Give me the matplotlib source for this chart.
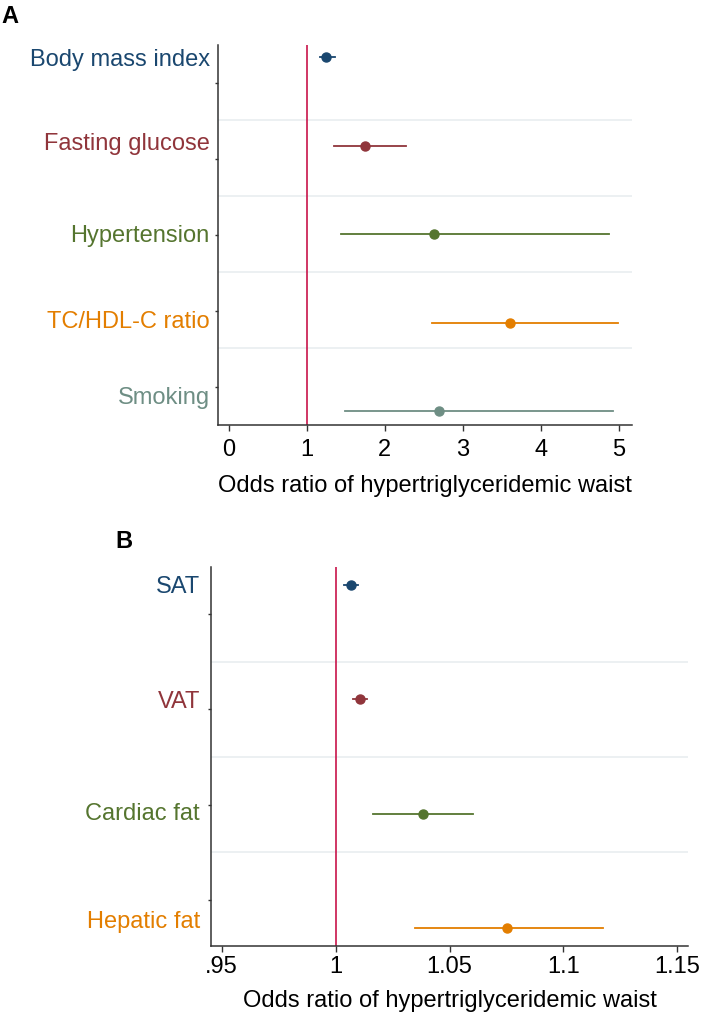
import numpy as np
import matplotlib.pyplot as plt
import matplotlib

matplotlib.rcParams.update({'font.family': ['Liberation Sans', 'DejaVu Sans'], 'font.size': 17})

# Panel A: clinical risk factors
labels_a = ['Body mass index', 'Fasting glucose', 'Hypertension', 'TC/HDL-C ratio', 'Smoking']
or_a = [1.24, 1.74, 2.63, 3.60, 2.69]
lo_a = [1.17, 1.35, 1.44, 2.60, 1.49]
hi_a = [1.36, 2.27, 4.88, 4.99, 4.92]

# Panel B: fat depots
labels_b = ['SAT', 'VAT', 'Cardiac fat', 'Hepatic fat']
or_b = [1.0068, 1.0109, 1.0382, 1.0752]
lo_b = [1.0038, 1.0077, 1.0164, 1.0347]
hi_b = [1.0099, 1.0139, 1.0605, 1.1176]

xticks_b = [0.95, 1.0, 1.05, 1.1, 1.15]
xticklabels_b = ['.95', '1', '1.05', '1.1', '1.15']

colores = ['#1a476f', '#90353b', '#55752f', '#e37e00', '#6e8e84']
c_ref = '#c8144a'
c_grid = '#e9eef0'

fig = plt.figure(figsize=(7.09, 10.16), dpi=100)
ax1 = fig.add_axes([0.3075, 0.5817, 0.8914 - 0.3075, 0.9557 - 0.5817])
ax2 = fig.add_axes([0.2976, 0.0689, 0.9704 - 0.2976, 0.4419 - 0.0689])


def forest(ax, labels, est, lo, hi, ylim, grid0, gstep, lab_off, tick0, ypad, xpad, lpad):
    n = len(labels)
    pos = np.arange(n)
    for k in range(n - 1):
        ax.axhline(grid0 + gstep * k, color=c_grid, lw=1.2, zorder=0)
    for i in range(n):
        ax.plot([lo[i], hi[i]], [pos[i], pos[i]], color=colores[i], lw=1.3, zorder=2)
        ax.plot(est[i], pos[i], 'o', color=colores[i], ms=6.5, zorder=3)
    ax.set_ylim(ylim)
    ax.set_yticks(pos + np.array(lab_off))
    ax.set_yticklabels(labels)
    for t, c in zip(ax.get_yticklabels(), colores):
        t.set_color(c)
    ax.tick_params(axis='y', length=0, pad=ypad, labelsize=17)
    ax.set_yticks([tick0 + gstep * k for k in range(n)], minor=True)
    ax.tick_params(axis='y', which='minor', length=2, width=1, color='#333333')
    ax.tick_params(axis='x', length=4, width=1, color='#333333', labelsize=17, pad=xpad)
    for s in ['top', 'right']:
        ax.spines[s].set_visible(False)
    for s in ['left', 'bottom']:
        ax.spines[s].set_color('#333333')
        ax.spines[s].set_linewidth(1.1)
    ax.set_xlabel('Odds ratio of hypertriglyceridemic waist', fontsize=17, labelpad=lpad)


forest(ax1, labels_a, or_a, lo_a, hi_a, (4.158, -0.136), 0.712, 0.859,
       [0, -0.05, -0.01, -0.03, -0.17], 0.29, 6, 6, 10)
ax1.axvline(1, color=c_ref, lw=1.2, zorder=1)
ax1.set_xlim(-0.14, 5.17)
ax1.set_xticks([0, 1, 2, 3, 4, 5])

forest(ax2, labels_b, or_b, lo_b, hi_b, (3.158, -0.157), 0.671, 0.834,
       [0, 0, -0.02, -0.07], 0.254, 8, 3, 9)
ax2.axvline(1, color=c_ref, lw=1.2, zorder=1)
ax2.set_xlim(0.9453, 1.1547)
ax2.set_xticks(xticks_b)
ax2.set_xticklabels(xticklabels_b)

fig.text(0.002, 0.9835, 'A', fontsize=17, fontweight='bold', va='center')
fig.text(0.163, 0.4668, 'B', fontsize=17, fontweight='bold', va='center')

plt.savefig('out.png', dpi=100)
